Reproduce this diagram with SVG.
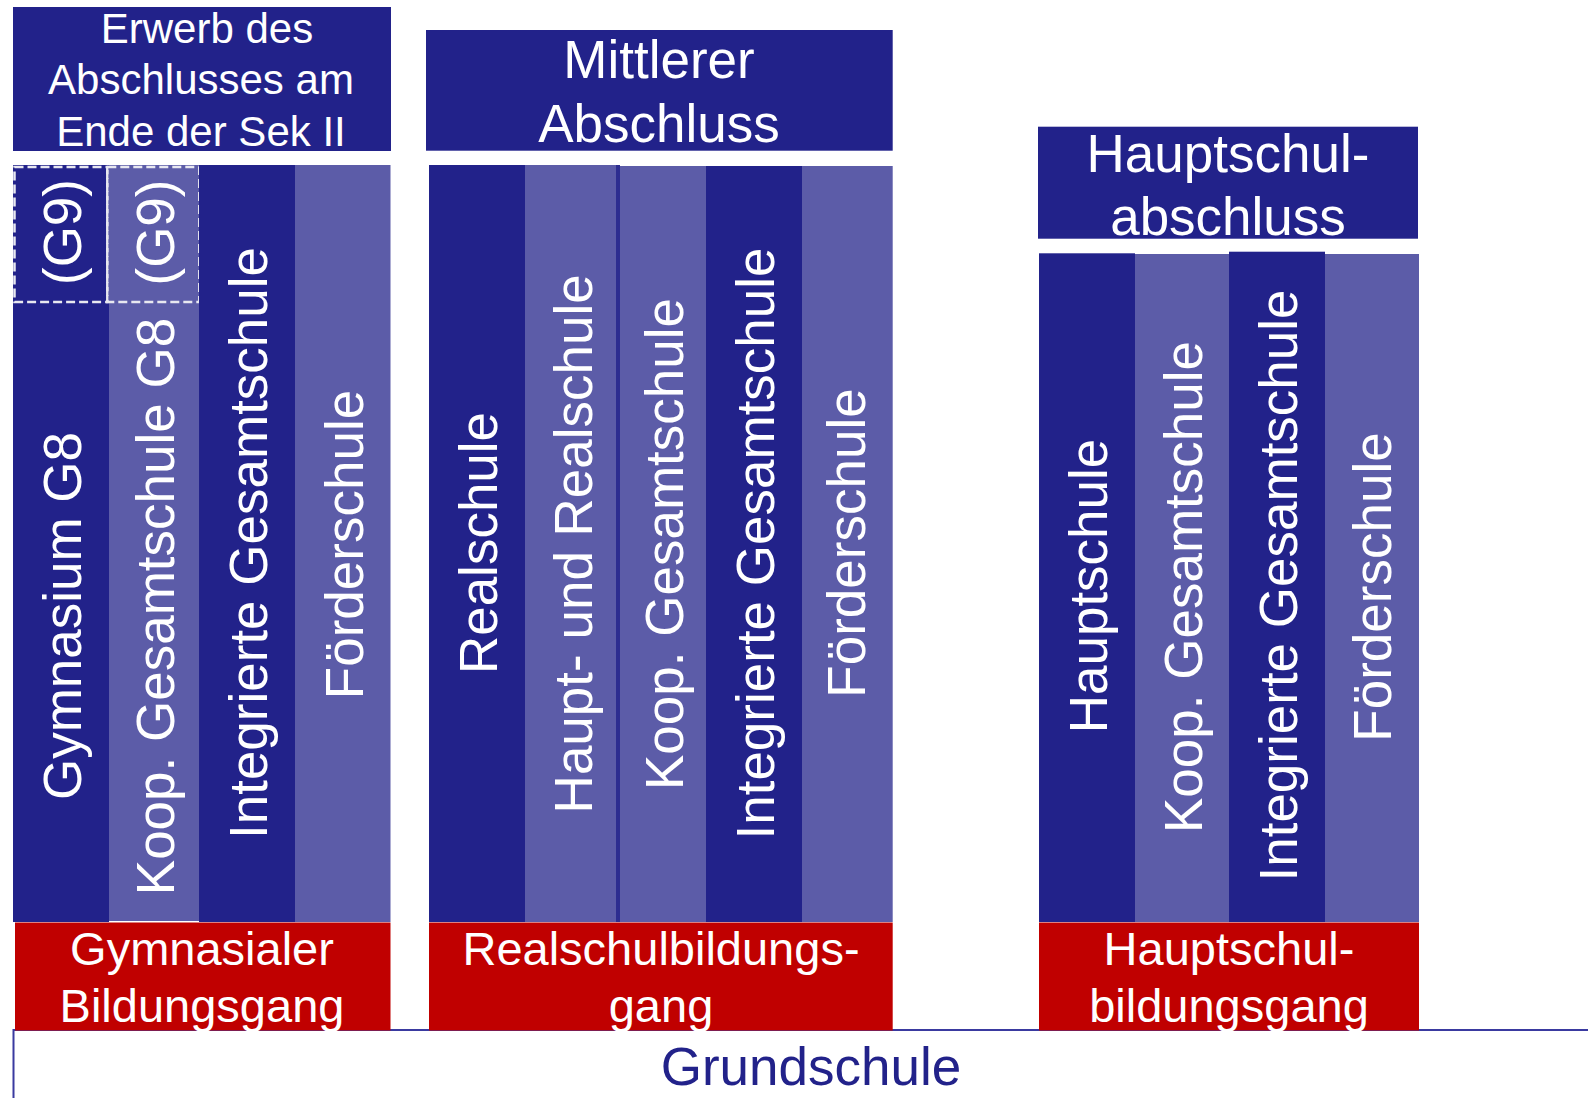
<svg xmlns="http://www.w3.org/2000/svg" width="1588" height="1098" viewBox="0 0 1588 1098">
<style>
.dk{fill:#22228a}
.lt{fill:#5c5ca8}
.rd{fill:#c00000}
text{font-family:"Liberation Sans",Arial,Helvetica,sans-serif;fill:#ffffff;text-anchor:middle}
.t42{font-size:42px}
.t47{font-size:47px}
.t53{font-size:53px}
.dash{fill:none;stroke:#e8e8f0;stroke-width:2.5;stroke-dasharray:9 4}
</style>
<rect width="1588" height="1098" fill="#ffffff"/>

<g id="grundschule">
<rect x="13.5" y="1030" width="1600" height="120" fill="#ffffff" stroke="#3a3aa0" stroke-width="2"/>
<text x="811" y="1085" class="t53" style="fill:#22228a">Grundschule</text>
</g>

<g id="connectors"></g>

<!-- Left group -->
<g id="abschluss-sek2">
<rect x="13" y="7" width="378" height="144" class="dk"/>
<text x="207" y="43" class="t42">Erwerb des</text>
<text x="201" y="94" class="t42">Abschlusses am</text>
<text x="201" y="145.7" class="t42">Ende der Sek II</text>
</g>
<g id="gymnasium-g8">
<rect x="13" y="165" width="96" height="757" class="dk"/>
<text transform="translate(80.5,616) rotate(-90)" class="t53">Gymnasium G8</text>
</g>
<g id="koop-gesamtschule-g8">
<rect x="109" y="165" width="90" height="756" class="lt"/>
<text transform="translate(173.5,606.5) rotate(-90)" class="t53">Koop. Gesamtschule G8</text>
</g>
<g id="g9-gymnasium">
<rect x="14.5" y="167" width="92.8" height="135" class="dash"/>
<text transform="translate(80.5,232) rotate(-90)" class="t53">(G9)</text>
</g>
<g id="g9-koop">
<rect x="107.3" y="167" width="92" height="135" class="dash"/>
<text transform="translate(173.5,232.5) rotate(-90)" class="t53">(G9)</text>
</g>
<g id="integrierte-gesamtschule-1">
<rect x="199" y="165" width="96" height="757" class="dk"/>
<text transform="translate(267,543) rotate(-90)" class="t53">Integrierte Gesamtschule</text>
</g>
<g id="foerderschule-1">
<rect x="295" y="165" width="95.5" height="757" class="lt"/>
<text transform="translate(362.5,544.5) rotate(-90)" class="t53">Förderschule</text>
</g>
<g id="gymnasialer-bildungsgang">
<rect x="15" y="922.5" width="375.5" height="108" class="rd"/>
<text x="202" y="965" class="t47">Gymnasialer</text>
<text x="202" y="1021.7" class="t47">Bildungsgang</text>
</g>

<!-- Middle group -->
<g id="mittlerer-abschluss">
<rect x="426" y="30" width="466.7" height="120.7" class="dk"/>
<text x="659" y="78.3" class="t53">Mittlerer</text>
<text x="659" y="141.7" class="t53">Abschluss</text>
</g>
<g id="realschule">
<rect x="429" y="165" width="96" height="757" class="dk"/>
<text transform="translate(497,543) rotate(-90)" class="t53">Realschule</text>
</g>
<g id="haupt-und-realschule">
<rect x="525" y="165" width="91" height="757" class="lt"/>
<rect x="616" y="165" width="4" height="757" fill="#2d2d90"/>
<text transform="translate(592,543.8) rotate(-90)" class="t53">Haupt- und Realschule</text>
</g>
<g id="koop-gesamtschule-2">
<rect x="620" y="166" width="86" height="756" class="lt"/>
<text transform="translate(683,544) rotate(-90)" class="t53">Koop. Gesamtschule</text>
</g>
<g id="integrierte-gesamtschule-2">
<rect x="706" y="166" width="96" height="756" class="dk"/>
<text transform="translate(774,543.5) rotate(-90)" class="t53">Integrierte Gesamtschule</text>
</g>
<g id="foerderschule-2">
<rect x="802" y="166" width="90.7" height="756" class="lt"/>
<text transform="translate(864.5,543) rotate(-90)" class="t53">Förderschule</text>
</g>
<g id="realschulbildungsgang">
<rect x="429" y="922.5" width="463.7" height="108" class="rd"/>
<text x="661" y="965" class="t47">Realschulbildungs-</text>
<text x="661" y="1021.7" class="t47">gang</text>
</g>

<!-- Right group -->
<g id="hauptschulabschluss">
<rect x="1038" y="126.7" width="380" height="112" class="dk"/>
<text x="1228" y="171.7" class="t53">Hauptschul-</text>
<text x="1228" y="235" class="t53">abschluss</text>
</g>
<g id="hauptschule">
<rect x="1039" y="253.3" width="96" height="668.7" class="dk"/>
<text transform="translate(1107,586) rotate(-90)" class="t53">Hauptschule</text>
</g>
<g id="koop-gesamtschule-3">
<rect x="1135" y="254" width="94" height="668" class="lt"/>
<text transform="translate(1202,587) rotate(-90)" class="t53">Koop. Gesamtschule</text>
</g>
<g id="integrierte-gesamtschule-3">
<rect x="1229" y="251.7" width="96" height="670.3" class="dk"/>
<text transform="translate(1297,585.5) rotate(-90)" class="t53">Integrierte Gesamtschule</text>
</g>
<g id="foerderschule-3">
<rect x="1325" y="254" width="94" height="668" class="lt"/>
<text transform="translate(1391,587) rotate(-90)" class="t53">Förderschule</text>
</g>
<g id="hauptschulbildungsgang">
<rect x="1039" y="922.5" width="380" height="108" class="rd"/>
<text x="1229" y="965" class="t47">Hauptschul-</text>
<text x="1229" y="1021.7" class="t47">bildungsgang</text>
</g>
</svg>
